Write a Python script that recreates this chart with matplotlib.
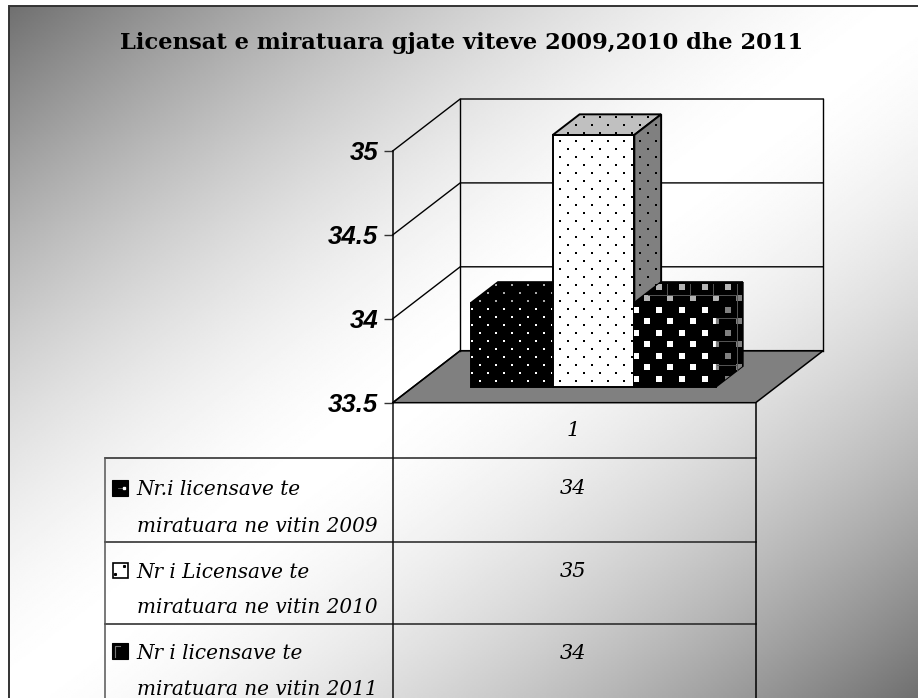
import numpy as np
import matplotlib
matplotlib.use("Agg")
import matplotlib.pyplot as plt
from matplotlib.patches import Polygon, Rectangle

title = "Licensat e miratuara gjate viteve 2009,2010 dhe 2011"
categories = ["1"]
series_names = [
    ("Nr.i licensave te", "miratuara ne vitin 2009"),
    ("Nr i Licensave te", "miratuara ne vitin 2010"),
    ("Nr i licensave te", "miratuara ne vitin 2011"),
]
values = [34, 35, 34]
y_ticks = [33.5, 34, 34.5, 35]
y_labels = ["33.5", "34", "34.5", "35"]

W, H = 918, 698
LEFT, RIGHT, FRONT_BOTTOM, FRONT_TOP = 392.7, 755.7, 402.7, 151.0
DEPTH_PX = (67.5, 52.0)
Y_MIN, Y_MAX = y_ticks[0], y_ticks[-1]
DX = DEPTH_PX[0] / (RIGHT - LEFT)
DV = DEPTH_PX[1] / ((FRONT_BOTTOM - FRONT_TOP) / (Y_MAX - Y_MIN))
BAR_X0, BAR_W = 0.159, 0.2247
BAR_D0, BAR_D1 = 0.308, 0.705

fig = plt.figure(figsize=(W / 100, H / 100), dpi=100, facecolor="white")

# full figure layer in pixel coordinates, for background and table
bg = fig.add_axes([0, 0, 1, 1], zorder=0)
xx, yy = np.meshgrid(np.linspace(0, 1, 460), np.linspace(0, 1, 350))
t = np.abs(xx + yy - 1)
shade = 255 - 143 * t ** 1.6
bg.imshow(shade, cmap="gray", vmin=0, vmax=255, extent=(9, W, H, 6), aspect="auto", interpolation="bilinear")
bg.set_xlim(0, W)
bg.set_ylim(H, 0)
bg.axis("off")
bg.plot([9, 9, W], [H, 6, 6], color="#333333", lw=1.4, solid_joinstyle="miter")

# table lines
for y_row, x_start in [(458.3, 105), (542, 105), (624, 105)]:
    bg.plot([x_start, RIGHT], [y_row, y_row], color="#222222", lw=1.1)
bg.plot([105, 105], [458.3, H], color="#555555", lw=1.1)
bg.plot([LEFT, LEFT], [FRONT_BOTTOM, H], color="#111111", lw=1.1)
bg.plot([RIGHT, RIGHT], [FRONT_BOTTOM, H], color="black", lw=1.1)

bg.text(461.5, 49, title, family="DejaVu Serif", weight="bold", size=16.3, ha="center", va="baseline")

table_font = dict(family="DejaVu Serif", style="italic", size=14.4, va="baseline")
value_font = dict(family="DejaVu Serif", style="italic", size=15, va="baseline", ha="center")
bg.text(573, 436, categories[0], **value_font)
text_rows = [(495, 531.7), (577.7, 613), (659, 695)]
value_rows = [494, 577, 659]
for names, rows, val, val_y in zip(series_names, text_rows, values, value_rows):
    bg.text(136.7, rows[0], names[0], **table_font)
    bg.text(136.7, rows[1], names[1], **table_font)
    bg.text(573, val_y, str(val), **value_font)

# legend keys
bg.add_patch(Rectangle((112, 480), 16, 16, fc="black", ec="black", lw=0.8))
bg.plot([118, 124], [488, 488], color="#666666", lw=0.6)
bg.plot([124], [488], "s", color="white", ms=1.5)
bg.add_patch(Rectangle((112.5, 562.5), 15, 15, fc="white", ec="black", lw=1.2))
bg.plot([124, 115], [566, 574], "s", color="black", ms=1.2, ls="none")
bg.add_patch(Rectangle((112, 643), 16, 16, fc="black", ec="black", lw=0.8))
bg.plot([115, 115, 120], [657, 645.5, 645.5], color="#777777", lw=0.8)

# chart front plane, real value scale
ax = fig.add_axes([LEFT / W, 1 - FRONT_BOTTOM / H, (RIGHT - LEFT) / W, (FRONT_BOTTOM - FRONT_TOP) / H], zorder=1)
ax.patch.set_alpha(0)
ax.set_xlim(0, 1)
ax.set_ylim(Y_MIN, Y_MAX)
ax.set_autoscale_on(False)
for side in ["top", "right", "bottom"]:
    ax.spines[side].set_visible(False)
ax.spines["left"].set_linewidth(1.1)
ax.set_xticks([])
ax.set_yticks(y_ticks)
ax.set_yticklabels(y_labels, family="Liberation Sans", weight="bold", style="italic", size=18.5)
ax.tick_params(axis="y", length=6.5, width=1, pad=4, color="#333333")


def project(x, value, depth):
    return (x + depth * DX, value + depth * DV)


def face(points, fc, lw=1.4, z=3):
    poly = Polygon(points, closed=True, fc=fc, ec="black", lw=lw, zorder=z, clip_on=False, joinstyle="miter")
    ax.add_patch(poly)
    return poly


def pattern(poly, x0, y0, px, py, size, color, z):
    # screen aligned staggered pattern, clipped to the face
    rows = np.arange(0, int(H / py) + 2)
    xs, ys = [], []
    for k in rows:
        shift = (k % 2) * px / 2
        row_x = (x0 + shift) % px + np.arange(-1, int(W / px) + 2) * px
        xs.append(row_x)
        ys.append(np.full(row_x.shape, (y0 % (2 * py)) + (k - 2) * py))
    coll = ax.scatter(np.concatenate(xs), np.concatenate(ys), s=(size * 0.72) ** 2, marker="s", c=color,
                      linewidths=0, transform=bg.transData, zorder=z, clip_on=True)
    coll.set_clip_path(poly)


# walls and floor
floor = [project(0, Y_MIN, 0), project(1, Y_MIN, 0), project(1, Y_MIN, 1), project(0, Y_MIN, 1)]
ax.add_patch(Polygon(floor, closed=True, fc="#808080", ec="black", lw=1.1, zorder=1, clip_on=False))
for v in y_ticks:
    pts = [project(0, v, 0), project(0, v, 1), project(1, v, 1)]
    ax.plot(*zip(*pts), color="black", lw=1, zorder=1, clip_on=False)
ax.plot(*zip(project(0, Y_MIN, 1), project(0, Y_MAX, 1)), color="black", lw=1, zorder=1, clip_on=False)
ax.plot(*zip(project(1, Y_MIN, 1), project(1, Y_MAX, 1)), color="black", lw=1, zorder=1, clip_on=False)

# per-series face colours: front, top, side, and pattern colours
styles = [
    dict(front="black", top="black", side="black", dots=("white", "#aaaaaa", "#808080"), lattice=(560, 140.7, 16, 8, 2.2)),
    dict(front="white", top="#c0c0c0", side="#808080", dots=("black", "black", "black"), lattice=(560, 140.7, 16, 8, 2.2)),
    dict(front="black", top="black", side="black", dots=("white", "#b4b4b4", "#808080"), lattice=(658.7, 309.7, 23, 11.5, 6)),
]

for i, (val, st) in enumerate(zip(values, styles)):
    z = 3 + i * 3
    x0 = BAR_X0 + i * BAR_W
    x1 = x0 + BAR_W
    front_face = [project(x0, Y_MIN, BAR_D0), project(x1, Y_MIN, BAR_D0), project(x1, val, BAR_D0), project(x0, val, BAR_D0)]
    top_face = [project(x0, val, BAR_D0), project(x1, val, BAR_D0), project(x1, val, BAR_D1), project(x0, val, BAR_D1)]
    side_face = [project(x1, Y_MIN, BAR_D0), project(x1, Y_MIN, BAR_D1), project(x1, val, BAR_D1), project(x1, val, BAR_D0)]
    polys = [face(front_face, st["front"], z=z), face(top_face, st["top"], z=z), face(side_face, st["side"], z=z)]
    lx, ly, px, py, size = st["lattice"]
    for poly, color in zip(polys, st["dots"]):
        pattern(poly, lx, ly, px, py, size, color, z + 1)

# thin rendering lines on the top and side of the last bar
grid_kw = dict(color="#555555", lw=0.7, transform=bg.transData, zorder=14, clip_on=False)
ax.plot([648, 736.7], [295, 295], **grid_kw)
ax.plot([736.7, 736.7], [284, 370], **grid_kw)
for gx in [667, 690, 713]:
    ax.plot([gx, gx], [284, 295], **grid_kw)
for gy in [318, 341, 365]:
    ax.plot([717, 736.7], [gy, gy], **grid_kw)

fig.savefig("out.png", dpi=100)
